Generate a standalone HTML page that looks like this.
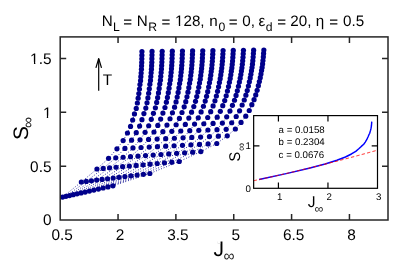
<!DOCTYPE html>
<html><head><meta charset="utf-8"><title>plot</title>
<style>html,body{margin:0;padding:0;background:#fff;width:416px;height:277px;overflow:hidden}</style></head>
<body>
<svg width="416" height="277" viewBox="0 0 416 277" text-rendering="geometricPrecision" style="position:absolute;left:0;top:0;will-change:transform">
<rect width="416" height="277" fill="#fff"/>
<polyline points="62.55,197.10 81.35,182.00 96.95,169.00 108.55,158.30 116.95,148.80 123.15,140.60 127.45,133.00 130.55,126.40 132.65,120.00 134.45,113.90 136.25,108.40 137.35,103.00 138.15,98.20 138.85,93.50 139.45,89.00 139.95,84.60 140.55,80.70 140.85,76.70 141.15,73.00 141.42,69.33 141.58,65.87 141.75,62.40 141.82,58.83 141.88,55.17 141.95,51.50" fill="none" stroke="#00008b" stroke-width="1.0" stroke-linecap="round" stroke-dasharray="0.01 2.7"/>
<polyline points="65.96,196.34 86.33,181.38 103.21,168.43 115.78,157.78 124.92,148.38 131.57,140.21 136.25,132.67 139.61,126.07 141.96,119.69 143.92,113.62 145.81,108.09 147.01,102.73 147.89,97.93 148.65,93.23 149.31,88.73 149.85,84.35 150.48,80.45 150.81,76.48 151.14,72.80 151.43,69.18 151.62,65.71 151.80,62.24 151.89,58.68 151.98,55.03 152.06,51.38" fill="none" stroke="#00008b" stroke-width="1.0" stroke-linecap="round" stroke-dasharray="0.01 2.7"/>
<polyline points="69.52,195.54 91.44,180.75 109.58,167.85 123.10,157.24 132.95,147.95 140.04,139.82 145.09,132.35 148.70,125.74 151.29,119.37 153.42,113.34 155.38,107.79 156.68,102.45 157.64,97.65 158.47,92.97 159.17,88.45 159.76,84.10 160.41,80.20 160.78,76.27 161.13,72.60 161.45,69.02 161.66,65.55 161.87,62.08 161.98,58.52 162.08,54.88 162.18,51.25" fill="none" stroke="#00008b" stroke-width="1.0" stroke-linecap="round" stroke-dasharray="0.01 2.7"/>
<polyline points="73.21,194.71 96.69,180.10 116.06,167.26 130.50,156.71 141.05,147.52 148.55,139.43 153.96,132.02 157.82,125.41 160.65,119.06 162.92,113.06 164.96,107.48 166.36,102.18 167.40,97.38 168.29,92.70 169.05,88.18 169.68,83.85 170.36,79.95 170.76,76.05 171.13,72.40 171.48,68.86 171.72,65.39 171.94,61.93 172.08,58.36 172.19,54.74 172.31,51.13" fill="none" stroke="#00008b" stroke-width="1.0" stroke-linecap="round" stroke-dasharray="0.01 2.7"/>
<polyline points="77.05,193.85 102.07,179.43 122.65,166.66 137.98,156.16 149.21,147.09 157.11,139.03 162.86,131.69 166.96,125.08 170.02,118.74 172.45,112.77 174.56,107.17 176.06,101.91 177.18,97.10 178.12,92.44 178.93,87.90 179.60,83.60 180.31,79.70 180.74,75.84 181.15,72.20 181.51,68.70 181.78,65.24 182.01,61.77 182.18,58.20 182.31,54.60 182.45,51.00" fill="none" stroke="#00008b" stroke-width="1.0" stroke-linecap="round" stroke-dasharray="0.01 2.7"/>
<polyline points="81.04,192.95 107.58,178.75 129.34,166.05 145.54,155.61 157.43,146.65 165.71,138.64 171.80,131.36 176.13,124.75 179.41,118.43 181.99,112.49 184.17,106.87 185.76,101.63 186.96,96.83 187.97,92.17 188.83,87.63 189.54,83.35 190.27,79.45 190.74,75.62 191.17,72.00 191.56,68.54 191.85,65.08 192.10,61.61 192.29,58.04 192.44,54.46 192.59,50.88" fill="none" stroke="#00008b" stroke-width="1.0" stroke-linecap="round" stroke-dasharray="0.01 2.7"/>
<polyline points="85.17,192.03 113.22,178.05 136.15,165.43 153.19,155.06 165.72,146.21 174.37,138.24 180.78,131.02 185.33,124.42 188.83,118.11 191.55,112.21 193.80,106.56 195.48,101.36 196.75,96.56 197.82,91.90 198.73,87.35 199.49,83.10 200.24,79.20 200.74,75.40 201.20,71.80 201.61,68.39 201.93,64.92 202.20,61.45 202.41,57.89 202.58,54.32 202.75,50.75" fill="none" stroke="#00008b" stroke-width="1.0" stroke-linecap="round" stroke-dasharray="0.01 2.7"/>
<polyline points="89.44,191.07 118.99,177.33 143.06,164.80 160.93,154.50 174.07,145.77 183.06,137.84 189.78,130.69 194.55,124.08 198.26,117.80 201.12,111.93 203.44,106.25 205.21,101.08 206.56,96.28 207.68,91.64 208.64,87.08 209.44,82.85 210.22,78.95 210.76,75.19 211.23,71.60 211.68,68.23 212.02,64.76 212.30,61.29 212.54,57.73 212.73,54.18 212.91,50.63" fill="none" stroke="#00008b" stroke-width="1.0" stroke-linecap="round" stroke-dasharray="0.01 2.7"/>
<polyline points="93.85,190.08 124.90,176.60 150.08,164.16 168.75,153.93 182.48,145.32 191.81,137.43 198.83,130.35 203.80,123.75 207.72,117.48 210.72,111.64 213.09,105.94 214.96,100.81 216.38,96.00 217.56,91.37 218.57,86.80 219.40,82.60 220.21,78.70 220.78,74.97 221.28,71.40 221.75,68.07 222.11,64.60 222.41,61.14 222.68,57.57 222.88,54.04 223.08,50.50" fill="none" stroke="#00008b" stroke-width="1.0" stroke-linecap="round" stroke-dasharray="0.01 2.7"/>
<polyline points="98.41,189.06 130.94,175.85 157.21,163.51 176.65,153.36 190.95,144.87 200.60,137.03 207.91,130.02 213.07,123.41 217.20,117.16 220.32,111.36 222.76,105.63 224.71,100.53 226.20,95.73 227.44,91.10 228.50,86.53 229.38,82.35 230.21,78.45 230.81,74.75 231.33,71.20 231.83,67.91 232.22,64.44 232.54,60.98 232.83,57.41 233.04,53.89 233.26,50.38" fill="none" stroke="#00008b" stroke-width="1.0" stroke-linecap="round" stroke-dasharray="0.01 2.7"/>
<polyline points="103.12,188.01 137.11,175.08 164.45,162.85 184.63,152.78 199.49,144.42 209.44,136.62 217.02,129.68 222.37,123.08 226.69,116.84 229.95,111.07 232.44,105.32 234.48,100.25 236.04,95.45 237.33,90.84 238.44,86.25 239.36,82.10 240.21,78.20 240.85,74.54 241.40,71.00 241.91,67.75 242.33,64.28 242.67,60.82 242.98,57.25 243.22,53.75 243.45,50.25" fill="none" stroke="#00008b" stroke-width="1.0" stroke-linecap="round" stroke-dasharray="0.01 2.7"/>
<polyline points="107.96,186.92 143.41,174.30 171.80,162.18 192.70,152.19 208.09,143.96 218.32,136.21 226.17,129.34 231.70,122.74 236.21,116.52 239.59,110.79 242.14,105.01 244.26,99.98 245.89,95.18 247.24,90.57 248.39,85.98 249.35,81.85 250.23,77.95 250.89,74.32 251.47,70.80 252.01,67.59 252.45,64.13 252.80,60.66 253.14,57.09 253.39,53.61 253.64,50.13" fill="none" stroke="#00008b" stroke-width="1.0" stroke-linecap="round" stroke-dasharray="0.01 2.7"/>
<polyline points="112.95,185.80 149.85,173.50 179.25,161.50 200.85,151.60 216.75,143.50 227.25,135.80 235.35,129.00 241.05,122.40 245.75,116.20 249.25,110.50 251.85,104.70 254.05,99.70 255.75,94.90 257.15,90.30 258.35,85.70 259.35,81.60 260.25,77.70 260.95,74.10 261.55,70.60 262.12,67.43 262.58,63.97 262.95,60.50 263.32,56.93 263.58,53.47 263.85,50.00" fill="none" stroke="#00008b" stroke-width="1.0" stroke-linecap="round" stroke-dasharray="0.01 2.7"/>
<g fill="#00008b">
<circle cx="62.55" cy="197.10" r="2.6"/>
<circle cx="65.96" cy="196.34" r="2.6"/>
<circle cx="69.52" cy="195.54" r="2.6"/>
<circle cx="73.21" cy="194.71" r="2.6"/>
<circle cx="77.05" cy="193.85" r="2.6"/>
<circle cx="81.04" cy="192.95" r="2.6"/>
<circle cx="85.17" cy="192.03" r="2.6"/>
<circle cx="89.44" cy="191.07" r="2.6"/>
<circle cx="93.85" cy="190.08" r="2.6"/>
<circle cx="98.41" cy="189.06" r="2.6"/>
<circle cx="103.12" cy="188.01" r="2.6"/>
<circle cx="107.96" cy="186.92" r="2.6"/>
<circle cx="112.95" cy="185.80" r="2.6"/>
<circle cx="81.35" cy="182.00" r="2.6"/>
<circle cx="86.33" cy="181.38" r="2.6"/>
<circle cx="91.44" cy="180.75" r="2.6"/>
<circle cx="96.69" cy="180.10" r="2.6"/>
<circle cx="102.07" cy="179.43" r="2.6"/>
<circle cx="107.58" cy="178.75" r="2.6"/>
<circle cx="113.22" cy="178.05" r="2.6"/>
<circle cx="118.99" cy="177.33" r="2.6"/>
<circle cx="124.90" cy="176.60" r="2.6"/>
<circle cx="130.94" cy="175.85" r="2.6"/>
<circle cx="137.11" cy="175.08" r="2.6"/>
<circle cx="143.41" cy="174.30" r="2.6"/>
<circle cx="149.85" cy="173.50" r="2.6"/>
<circle cx="96.95" cy="169.00" r="2.6"/>
<circle cx="103.21" cy="168.43" r="2.6"/>
<circle cx="109.58" cy="167.85" r="2.6"/>
<circle cx="116.06" cy="167.26" r="2.6"/>
<circle cx="122.65" cy="166.66" r="2.6"/>
<circle cx="129.34" cy="166.05" r="2.6"/>
<circle cx="136.15" cy="165.43" r="2.6"/>
<circle cx="143.06" cy="164.80" r="2.6"/>
<circle cx="150.08" cy="164.16" r="2.6"/>
<circle cx="157.21" cy="163.51" r="2.6"/>
<circle cx="164.45" cy="162.85" r="2.6"/>
<circle cx="171.80" cy="162.18" r="2.6"/>
<circle cx="179.25" cy="161.50" r="2.6"/>
<circle cx="108.55" cy="158.30" r="2.6"/>
<circle cx="115.78" cy="157.78" r="2.6"/>
<circle cx="123.10" cy="157.24" r="2.6"/>
<circle cx="130.50" cy="156.71" r="2.6"/>
<circle cx="137.98" cy="156.16" r="2.6"/>
<circle cx="145.54" cy="155.61" r="2.6"/>
<circle cx="153.19" cy="155.06" r="2.6"/>
<circle cx="160.93" cy="154.50" r="2.6"/>
<circle cx="168.75" cy="153.93" r="2.6"/>
<circle cx="176.65" cy="153.36" r="2.6"/>
<circle cx="184.63" cy="152.78" r="2.6"/>
<circle cx="192.70" cy="152.19" r="2.6"/>
<circle cx="200.85" cy="151.60" r="2.6"/>
<circle cx="116.95" cy="148.80" r="2.6"/>
<circle cx="124.92" cy="148.38" r="2.6"/>
<circle cx="132.95" cy="147.95" r="2.6"/>
<circle cx="141.05" cy="147.52" r="2.6"/>
<circle cx="149.21" cy="147.09" r="2.6"/>
<circle cx="157.43" cy="146.65" r="2.6"/>
<circle cx="165.72" cy="146.21" r="2.6"/>
<circle cx="174.07" cy="145.77" r="2.6"/>
<circle cx="182.48" cy="145.32" r="2.6"/>
<circle cx="190.95" cy="144.87" r="2.6"/>
<circle cx="199.49" cy="144.42" r="2.6"/>
<circle cx="208.09" cy="143.96" r="2.6"/>
<circle cx="216.75" cy="143.50" r="2.6"/>
<circle cx="123.15" cy="140.60" r="2.6"/>
<circle cx="131.57" cy="140.21" r="2.6"/>
<circle cx="140.04" cy="139.82" r="2.6"/>
<circle cx="148.55" cy="139.43" r="2.6"/>
<circle cx="157.11" cy="139.03" r="2.6"/>
<circle cx="165.71" cy="138.64" r="2.6"/>
<circle cx="174.37" cy="138.24" r="2.6"/>
<circle cx="183.06" cy="137.84" r="2.6"/>
<circle cx="191.81" cy="137.43" r="2.6"/>
<circle cx="200.60" cy="137.03" r="2.6"/>
<circle cx="209.44" cy="136.62" r="2.6"/>
<circle cx="218.32" cy="136.21" r="2.6"/>
<circle cx="227.25" cy="135.80" r="2.6"/>
<circle cx="127.45" cy="133.00" r="2.6"/>
<circle cx="136.25" cy="132.67" r="2.6"/>
<circle cx="145.09" cy="132.35" r="2.6"/>
<circle cx="153.96" cy="132.02" r="2.6"/>
<circle cx="162.86" cy="131.69" r="2.6"/>
<circle cx="171.80" cy="131.36" r="2.6"/>
<circle cx="180.78" cy="131.02" r="2.6"/>
<circle cx="189.78" cy="130.69" r="2.6"/>
<circle cx="198.83" cy="130.35" r="2.6"/>
<circle cx="207.91" cy="130.02" r="2.6"/>
<circle cx="217.02" cy="129.68" r="2.6"/>
<circle cx="226.17" cy="129.34" r="2.6"/>
<circle cx="235.35" cy="129.00" r="2.6"/>
<circle cx="130.55" cy="126.40" r="2.6"/>
<circle cx="139.61" cy="126.07" r="2.6"/>
<circle cx="148.70" cy="125.74" r="2.6"/>
<circle cx="157.82" cy="125.41" r="2.6"/>
<circle cx="166.96" cy="125.08" r="2.6"/>
<circle cx="176.13" cy="124.75" r="2.6"/>
<circle cx="185.33" cy="124.42" r="2.6"/>
<circle cx="194.55" cy="124.08" r="2.6"/>
<circle cx="203.80" cy="123.75" r="2.6"/>
<circle cx="213.07" cy="123.41" r="2.6"/>
<circle cx="222.37" cy="123.08" r="2.6"/>
<circle cx="231.70" cy="122.74" r="2.6"/>
<circle cx="241.05" cy="122.40" r="2.6"/>
<circle cx="132.65" cy="120.00" r="2.6"/>
<circle cx="141.96" cy="119.69" r="2.6"/>
<circle cx="151.29" cy="119.37" r="2.6"/>
<circle cx="160.65" cy="119.06" r="2.6"/>
<circle cx="170.02" cy="118.74" r="2.6"/>
<circle cx="179.41" cy="118.43" r="2.6"/>
<circle cx="188.83" cy="118.11" r="2.6"/>
<circle cx="198.26" cy="117.80" r="2.6"/>
<circle cx="207.72" cy="117.48" r="2.6"/>
<circle cx="217.20" cy="117.16" r="2.6"/>
<circle cx="226.69" cy="116.84" r="2.6"/>
<circle cx="236.21" cy="116.52" r="2.6"/>
<circle cx="245.75" cy="116.20" r="2.6"/>
<circle cx="134.45" cy="113.90" r="2.6"/>
<circle cx="143.92" cy="113.62" r="2.6"/>
<circle cx="153.42" cy="113.34" r="2.6"/>
<circle cx="162.92" cy="113.06" r="2.6"/>
<circle cx="172.45" cy="112.77" r="2.6"/>
<circle cx="181.99" cy="112.49" r="2.6"/>
<circle cx="191.55" cy="112.21" r="2.6"/>
<circle cx="201.12" cy="111.93" r="2.6"/>
<circle cx="210.72" cy="111.64" r="2.6"/>
<circle cx="220.32" cy="111.36" r="2.6"/>
<circle cx="229.95" cy="111.07" r="2.6"/>
<circle cx="239.59" cy="110.79" r="2.6"/>
<circle cx="249.25" cy="110.50" r="2.6"/>
<circle cx="136.25" cy="108.40" r="2.6"/>
<circle cx="145.81" cy="108.09" r="2.6"/>
<circle cx="155.38" cy="107.79" r="2.6"/>
<circle cx="164.96" cy="107.48" r="2.6"/>
<circle cx="174.56" cy="107.17" r="2.6"/>
<circle cx="184.17" cy="106.87" r="2.6"/>
<circle cx="193.80" cy="106.56" r="2.6"/>
<circle cx="203.44" cy="106.25" r="2.6"/>
<circle cx="213.09" cy="105.94" r="2.6"/>
<circle cx="222.76" cy="105.63" r="2.6"/>
<circle cx="232.44" cy="105.32" r="2.6"/>
<circle cx="242.14" cy="105.01" r="2.6"/>
<circle cx="251.85" cy="104.70" r="2.6"/>
<circle cx="137.35" cy="103.00" r="2.6"/>
<circle cx="147.01" cy="102.73" r="2.6"/>
<circle cx="156.68" cy="102.45" r="2.6"/>
<circle cx="166.36" cy="102.18" r="2.6"/>
<circle cx="176.06" cy="101.91" r="2.6"/>
<circle cx="185.76" cy="101.63" r="2.6"/>
<circle cx="195.48" cy="101.36" r="2.6"/>
<circle cx="205.21" cy="101.08" r="2.6"/>
<circle cx="214.96" cy="100.81" r="2.6"/>
<circle cx="224.71" cy="100.53" r="2.6"/>
<circle cx="234.48" cy="100.25" r="2.6"/>
<circle cx="244.26" cy="99.98" r="2.6"/>
<circle cx="254.05" cy="99.70" r="2.6"/>
<circle cx="138.15" cy="98.20" r="2.6"/>
<circle cx="147.89" cy="97.93" r="2.6"/>
<circle cx="157.64" cy="97.65" r="2.6"/>
<circle cx="167.40" cy="97.38" r="2.6"/>
<circle cx="177.18" cy="97.10" r="2.6"/>
<circle cx="186.96" cy="96.83" r="2.6"/>
<circle cx="196.75" cy="96.56" r="2.6"/>
<circle cx="206.56" cy="96.28" r="2.6"/>
<circle cx="216.38" cy="96.00" r="2.6"/>
<circle cx="226.20" cy="95.73" r="2.6"/>
<circle cx="236.04" cy="95.45" r="2.6"/>
<circle cx="245.89" cy="95.18" r="2.6"/>
<circle cx="255.75" cy="94.90" r="2.6"/>
<circle cx="138.85" cy="93.50" r="2.6"/>
<circle cx="148.65" cy="93.23" r="2.6"/>
<circle cx="158.47" cy="92.97" r="2.6"/>
<circle cx="168.29" cy="92.70" r="2.6"/>
<circle cx="178.12" cy="92.44" r="2.6"/>
<circle cx="187.97" cy="92.17" r="2.6"/>
<circle cx="197.82" cy="91.90" r="2.6"/>
<circle cx="207.68" cy="91.64" r="2.6"/>
<circle cx="217.56" cy="91.37" r="2.6"/>
<circle cx="227.44" cy="91.10" r="2.6"/>
<circle cx="237.33" cy="90.84" r="2.6"/>
<circle cx="247.24" cy="90.57" r="2.6"/>
<circle cx="257.15" cy="90.30" r="2.6"/>
<circle cx="139.45" cy="89.00" r="2.6"/>
<circle cx="149.31" cy="88.73" r="2.6"/>
<circle cx="159.17" cy="88.45" r="2.6"/>
<circle cx="169.05" cy="88.18" r="2.6"/>
<circle cx="178.93" cy="87.90" r="2.6"/>
<circle cx="188.83" cy="87.63" r="2.6"/>
<circle cx="198.73" cy="87.35" r="2.6"/>
<circle cx="208.64" cy="87.08" r="2.6"/>
<circle cx="218.57" cy="86.80" r="2.6"/>
<circle cx="228.50" cy="86.53" r="2.6"/>
<circle cx="238.44" cy="86.25" r="2.6"/>
<circle cx="248.39" cy="85.98" r="2.6"/>
<circle cx="258.35" cy="85.70" r="2.6"/>
<circle cx="139.95" cy="84.60" r="2.6"/>
<circle cx="149.85" cy="84.35" r="2.6"/>
<circle cx="159.76" cy="84.10" r="2.6"/>
<circle cx="169.68" cy="83.85" r="2.6"/>
<circle cx="179.60" cy="83.60" r="2.6"/>
<circle cx="189.54" cy="83.35" r="2.6"/>
<circle cx="199.49" cy="83.10" r="2.6"/>
<circle cx="209.44" cy="82.85" r="2.6"/>
<circle cx="219.40" cy="82.60" r="2.6"/>
<circle cx="229.38" cy="82.35" r="2.6"/>
<circle cx="239.36" cy="82.10" r="2.6"/>
<circle cx="249.35" cy="81.85" r="2.6"/>
<circle cx="259.35" cy="81.60" r="2.6"/>
<circle cx="140.55" cy="80.70" r="2.6"/>
<circle cx="150.48" cy="80.45" r="2.6"/>
<circle cx="160.41" cy="80.20" r="2.6"/>
<circle cx="170.36" cy="79.95" r="2.6"/>
<circle cx="180.31" cy="79.70" r="2.6"/>
<circle cx="190.27" cy="79.45" r="2.6"/>
<circle cx="200.24" cy="79.20" r="2.6"/>
<circle cx="210.22" cy="78.95" r="2.6"/>
<circle cx="220.21" cy="78.70" r="2.6"/>
<circle cx="230.21" cy="78.45" r="2.6"/>
<circle cx="240.21" cy="78.20" r="2.6"/>
<circle cx="250.23" cy="77.95" r="2.6"/>
<circle cx="260.25" cy="77.70" r="2.6"/>
<circle cx="140.85" cy="76.70" r="2.6"/>
<circle cx="150.81" cy="76.48" r="2.6"/>
<circle cx="160.78" cy="76.27" r="2.6"/>
<circle cx="170.76" cy="76.05" r="2.6"/>
<circle cx="180.74" cy="75.84" r="2.6"/>
<circle cx="190.74" cy="75.62" r="2.6"/>
<circle cx="200.74" cy="75.40" r="2.6"/>
<circle cx="210.76" cy="75.19" r="2.6"/>
<circle cx="220.78" cy="74.97" r="2.6"/>
<circle cx="230.81" cy="74.75" r="2.6"/>
<circle cx="240.85" cy="74.54" r="2.6"/>
<circle cx="250.89" cy="74.32" r="2.6"/>
<circle cx="260.95" cy="74.10" r="2.6"/>
<circle cx="141.15" cy="73.00" r="2.6"/>
<circle cx="151.14" cy="72.80" r="2.6"/>
<circle cx="161.13" cy="72.60" r="2.6"/>
<circle cx="171.13" cy="72.40" r="2.6"/>
<circle cx="181.15" cy="72.20" r="2.6"/>
<circle cx="191.17" cy="72.00" r="2.6"/>
<circle cx="201.20" cy="71.80" r="2.6"/>
<circle cx="211.23" cy="71.60" r="2.6"/>
<circle cx="221.28" cy="71.40" r="2.6"/>
<circle cx="231.33" cy="71.20" r="2.6"/>
<circle cx="241.40" cy="71.00" r="2.6"/>
<circle cx="251.47" cy="70.80" r="2.6"/>
<circle cx="261.55" cy="70.60" r="2.6"/>
<circle cx="141.42" cy="69.33" r="2.6"/>
<circle cx="151.43" cy="69.18" r="2.6"/>
<circle cx="161.45" cy="69.02" r="2.6"/>
<circle cx="171.48" cy="68.86" r="2.6"/>
<circle cx="181.51" cy="68.70" r="2.6"/>
<circle cx="191.56" cy="68.54" r="2.6"/>
<circle cx="201.61" cy="68.39" r="2.6"/>
<circle cx="211.68" cy="68.23" r="2.6"/>
<circle cx="221.75" cy="68.07" r="2.6"/>
<circle cx="231.83" cy="67.91" r="2.6"/>
<circle cx="241.91" cy="67.75" r="2.6"/>
<circle cx="252.01" cy="67.59" r="2.6"/>
<circle cx="262.12" cy="67.43" r="2.6"/>
<circle cx="141.58" cy="65.87" r="2.6"/>
<circle cx="151.62" cy="65.71" r="2.6"/>
<circle cx="161.66" cy="65.55" r="2.6"/>
<circle cx="171.72" cy="65.39" r="2.6"/>
<circle cx="181.78" cy="65.24" r="2.6"/>
<circle cx="191.85" cy="65.08" r="2.6"/>
<circle cx="201.93" cy="64.92" r="2.6"/>
<circle cx="212.02" cy="64.76" r="2.6"/>
<circle cx="222.11" cy="64.60" r="2.6"/>
<circle cx="232.22" cy="64.44" r="2.6"/>
<circle cx="242.33" cy="64.28" r="2.6"/>
<circle cx="252.45" cy="64.13" r="2.6"/>
<circle cx="262.58" cy="63.97" r="2.6"/>
<circle cx="141.75" cy="62.40" r="2.6"/>
<circle cx="151.80" cy="62.24" r="2.6"/>
<circle cx="161.87" cy="62.08" r="2.6"/>
<circle cx="171.94" cy="61.93" r="2.6"/>
<circle cx="182.01" cy="61.77" r="2.6"/>
<circle cx="192.10" cy="61.61" r="2.6"/>
<circle cx="202.20" cy="61.45" r="2.6"/>
<circle cx="212.30" cy="61.29" r="2.6"/>
<circle cx="222.41" cy="61.14" r="2.6"/>
<circle cx="232.54" cy="60.98" r="2.6"/>
<circle cx="242.67" cy="60.82" r="2.6"/>
<circle cx="252.80" cy="60.66" r="2.6"/>
<circle cx="262.95" cy="60.50" r="2.6"/>
<circle cx="141.82" cy="58.83" r="2.6"/>
<circle cx="151.89" cy="58.68" r="2.6"/>
<circle cx="161.98" cy="58.52" r="2.6"/>
<circle cx="172.08" cy="58.36" r="2.6"/>
<circle cx="182.18" cy="58.20" r="2.6"/>
<circle cx="192.29" cy="58.04" r="2.6"/>
<circle cx="202.41" cy="57.89" r="2.6"/>
<circle cx="212.54" cy="57.73" r="2.6"/>
<circle cx="222.68" cy="57.57" r="2.6"/>
<circle cx="232.83" cy="57.41" r="2.6"/>
<circle cx="242.98" cy="57.25" r="2.6"/>
<circle cx="253.14" cy="57.09" r="2.6"/>
<circle cx="263.32" cy="56.93" r="2.6"/>
<circle cx="141.88" cy="55.17" r="2.6"/>
<circle cx="151.98" cy="55.03" r="2.6"/>
<circle cx="162.08" cy="54.88" r="2.6"/>
<circle cx="172.19" cy="54.74" r="2.6"/>
<circle cx="182.31" cy="54.60" r="2.6"/>
<circle cx="192.44" cy="54.46" r="2.6"/>
<circle cx="202.58" cy="54.32" r="2.6"/>
<circle cx="212.73" cy="54.18" r="2.6"/>
<circle cx="222.88" cy="54.04" r="2.6"/>
<circle cx="233.04" cy="53.89" r="2.6"/>
<circle cx="243.22" cy="53.75" r="2.6"/>
<circle cx="253.39" cy="53.61" r="2.6"/>
<circle cx="263.58" cy="53.47" r="2.6"/>
<circle cx="141.95" cy="51.50" r="2.6"/>
<circle cx="152.06" cy="51.38" r="2.6"/>
<circle cx="162.18" cy="51.25" r="2.6"/>
<circle cx="172.31" cy="51.13" r="2.6"/>
<circle cx="182.45" cy="51.00" r="2.6"/>
<circle cx="192.59" cy="50.88" r="2.6"/>
<circle cx="202.75" cy="50.75" r="2.6"/>
<circle cx="212.91" cy="50.63" r="2.6"/>
<circle cx="223.08" cy="50.50" r="2.6"/>
<circle cx="233.26" cy="50.38" r="2.6"/>
<circle cx="243.45" cy="50.25" r="2.6"/>
<circle cx="253.64" cy="50.13" r="2.6"/>
<circle cx="263.85" cy="50.00" r="2.6"/>
</g>
<g stroke="#262626" stroke-width="1.5" fill="none">
<rect x="60.2" y="36.9" width="327.80" height="183.10"/>
<path d="M118.05,220.0v-6M118.05,36.9v6"/>
<path d="M175.89,220.0v-6M175.89,36.9v6"/>
<path d="M233.74,220.0v-6M233.74,36.9v6"/>
<path d="M291.59,220.0v-6M291.59,36.9v6"/>
<path d="M349.44,220.0v-6M349.44,36.9v6"/>
<path d="M60.2,166.15h6M388.0,166.15h-6"/>
<path d="M60.2,112.29h6M388.0,112.29h-6"/>
<path d="M60.2,58.44h6M388.0,58.44h-6"/>
</g>
<g font-family="Liberation Sans, sans-serif" font-size="15.4" fill="#000">
<text x="62.20" y="240.4" text-anchor="middle">0.5</text>
<text x="120.05" y="240.4" text-anchor="middle">2</text>
<text x="177.89" y="240.4" text-anchor="middle">3.5</text>
<text x="235.74" y="240.4" text-anchor="middle">5</text>
<text x="293.59" y="240.4" text-anchor="middle">6.5</text>
<text x="351.44" y="240.4" text-anchor="middle">8</text>
<text x="51.5" y="225.40" text-anchor="end">0</text>
<text x="51.5" y="171.55" text-anchor="end">0.5</text>
<text x="51.5" y="117.69" text-anchor="end">1</text>
<rect x="43.55" y="115.69" width="3.26" height="2.75" fill="#fff"/><rect x="48.17" y="115.69" width="2.93" height="2.75" fill="#fff"/>
<text x="51.5" y="63.84" text-anchor="end">1.5</text>
<rect x="30.71" y="61.84" width="3.26" height="2.75" fill="#fff"/><rect x="35.33" y="61.84" width="2.93" height="2.75" fill="#fff"/>
</g>
<g font-family="Liberation Sans, sans-serif" fill="#000">
<text x="101.80" y="26.20" font-size="15.2">N</text>
<text x="113.00" y="30.70" font-size="12.2">L</text>
<text x="123.36" y="26.80" font-size="15.2">=</text>
<text x="136.85" y="26.20" font-size="15.2">N</text>
<text x="148.30" y="30.70" font-size="12.2">R</text>
<text x="161.46" y="26.80" font-size="15.2">=</text>
<text x="175.04" y="26.20" font-size="15.2">128,</text>
<rect x="175.65" y="24.21" width="3.21" height="2.74" fill="#fff"/><rect x="180.21" y="24.21" width="2.89" height="2.74" fill="#fff"/>
<text x="209.29" y="26.20" font-size="15.2">n</text>
<text x="218.52" y="30.70" font-size="12.2">0</text>
<text x="228.66" y="26.80" font-size="15.2">=</text>
<text x="242.21" y="26.20" font-size="15.2">0,</text>
<text x="258.48" y="26.20" font-size="15.2">ε</text>
<text x="265.79" y="30.70" font-size="12.2">d</text>
<text x="277.26" y="26.80" font-size="15.2">=</text>
<text x="290.24" y="26.20" font-size="15.2">20,</text>
<text x="315.71" y="26.20" font-size="15.2">η</text>
<text x="329.36" y="26.80" font-size="15.2">=</text>
<text x="343.01" y="26.20" font-size="15.2">0.5</text>
</g>
<g font-family="Liberation Sans, sans-serif" fill="#000">
<text x="213.6" y="255.9" font-size="21">J</text>
<rect x="217.2" y="240.9" width="3.38" height="2.7" fill="#fff"/>
<text x="223.5" y="261.3" font-size="15.5" fill="#222">∞</text>
<g transform="translate(27.8,139.9) rotate(-90)"><text x="0" y="0" font-size="21">S</text><text x="11.9" y="5.1" font-size="15.5" fill="#222">∞</text></g>
</g>
<g stroke="#000" stroke-width="1.2" fill="none" stroke-linejoin="round"><path d="M98.7,90.7V59"/><path d="M95.9,67.9L98.7,58.5L101.5,67.9"/></g>
<text x="102.75" y="85.05" font-family="Liberation Sans, sans-serif" font-size="15.4" fill="#000">T</text>
<rect x="253.65" y="115.6" width="123.85" height="72.70" fill="#fff"/>
<polyline points="259.05,179.56 287.32,173.36 309.00,168.21 325.15,163.97 336.89,160.23 345.43,156.99 351.44,153.99 355.76,151.36 358.78,148.82 361.30,146.41 363.72,144.21 365.26,142.08 366.40,140.17 367.38,138.30 368.22,136.51 368.91,134.77 369.72,133.22 370.15,131.64 370.57,130.18 370.94,128.74 371.19,127.36 371.42,125.98 371.54,124.56 371.65,123.11 371.75,121.66" fill="none" stroke="#0000ff" stroke-width="1.45" stroke-linejoin="round"/>
<polyline points="253.65,180.71 254.64,180.50 255.63,180.29 256.62,180.08 257.61,179.87 258.60,179.65 259.59,179.44 260.59,179.23 261.58,179.01 262.57,178.80 263.56,178.58 264.55,178.36 265.54,178.15 266.53,177.93 267.52,177.71 268.51,177.49 269.50,177.28 270.49,177.06 271.48,176.84 272.48,176.62 273.47,176.39 274.46,176.17 275.45,175.95 276.44,175.73 277.43,175.50 278.42,175.28 279.41,175.06 280.40,174.83 281.39,174.61 282.38,174.38 283.37,174.15 284.36,173.93 285.36,173.70 286.35,173.47 287.34,173.24 288.33,173.01 289.32,172.78 290.31,172.55 291.30,172.32 292.29,172.09 293.28,171.86 294.27,171.63 295.26,171.39 296.25,171.16 297.25,170.93 298.24,170.69 299.23,170.46 300.22,170.22 301.21,169.98 302.20,169.75 303.19,169.51 304.18,169.27 305.17,169.03 306.16,168.79 307.15,168.55 308.14,168.31 309.13,168.07 310.13,167.83 311.12,167.59 312.11,167.35 313.10,167.11 314.09,166.86 315.08,166.62 316.07,166.37 317.06,166.13 318.05,165.88 319.04,165.64 320.03,165.39 321.02,165.14 322.02,164.90 323.01,164.65 324.00,164.40 324.99,164.15 325.98,163.90 326.97,163.65 327.96,163.40 328.95,163.15 329.94,162.90 330.93,162.64 331.92,162.39 332.91,162.14 333.90,161.88 334.90,161.63 335.89,161.37 336.88,161.12 337.87,160.86 338.86,160.61 339.85,160.35 340.84,160.09 341.83,159.83 342.82,159.57 343.81,159.31 344.80,159.05 345.79,158.79 346.79,158.53 347.78,158.27 348.77,158.01 349.76,157.75 350.75,157.48 351.74,157.22 352.73,156.95 353.72,156.69 354.71,156.42 355.70,156.16 356.69,155.89 357.68,155.62 358.67,155.36 359.67,155.09 360.66,154.82 361.65,154.55 362.64,154.28 363.63,154.01 364.62,153.74 365.61,153.47 366.60,153.20 367.59,152.92 368.58,152.65 369.57,152.38 370.56,152.10 371.56,151.83 372.55,151.55 373.54,151.28 374.53,151.00 375.52,150.72 376.51,150.45 377.50,150.17" fill="none" stroke="#ff0000" stroke-width="0.9" stroke-dasharray="3.3 2.26"/>
<g stroke="#000" stroke-width="1.2" fill="none">
<rect x="253.65" y="115.6" width="123.85" height="72.70"/>
<path d="M278.42,188.3v-5.8M278.42,115.6v5.8"/>
<path d="M327.96,188.3v-5.8M327.96,115.6v5.8"/>
<path d="M253.65,145.94h5.8M377.5,145.94h-5.8"/>
</g>
<g font-family="Liberation Sans, sans-serif" font-size="9.7" fill="#000">
<text x="278.6" y="132.6">a = 0.0158</text>
<text x="278.6" y="144.8">b = 0.2304</text>
<text x="278.6" y="157.5">c = 0.0676</text>
<text x="279.62" y="199.9" text-anchor="middle">1</text>
<text x="329.16" y="199.9" text-anchor="middle">2</text>
<text x="378.70" y="199.9" text-anchor="middle">3</text>
<text x="251.0" y="192.00" text-anchor="end">0</text>
<text x="251.0" y="149.24" text-anchor="end">1</text>
</g>
<g font-family="Liberation Sans, sans-serif" fill="#000">
<text x="307.7" y="207.2" font-size="15.5">J</text>
<rect x="309.8" y="195.7" width="3.06" height="3.1" fill="#fff"/>
<text x="314.5" y="212.5" font-size="12.4" fill="#222">∞</text>
<g transform="translate(239.8,161.4) rotate(-90)"><text x="0" y="0" font-size="15.5" transform="scale(0.93,1)">S</text><text x="10.3" y="5.0" font-size="11.4" fill="#222">∞</text></g>
</g>
</svg>
</body></html>
